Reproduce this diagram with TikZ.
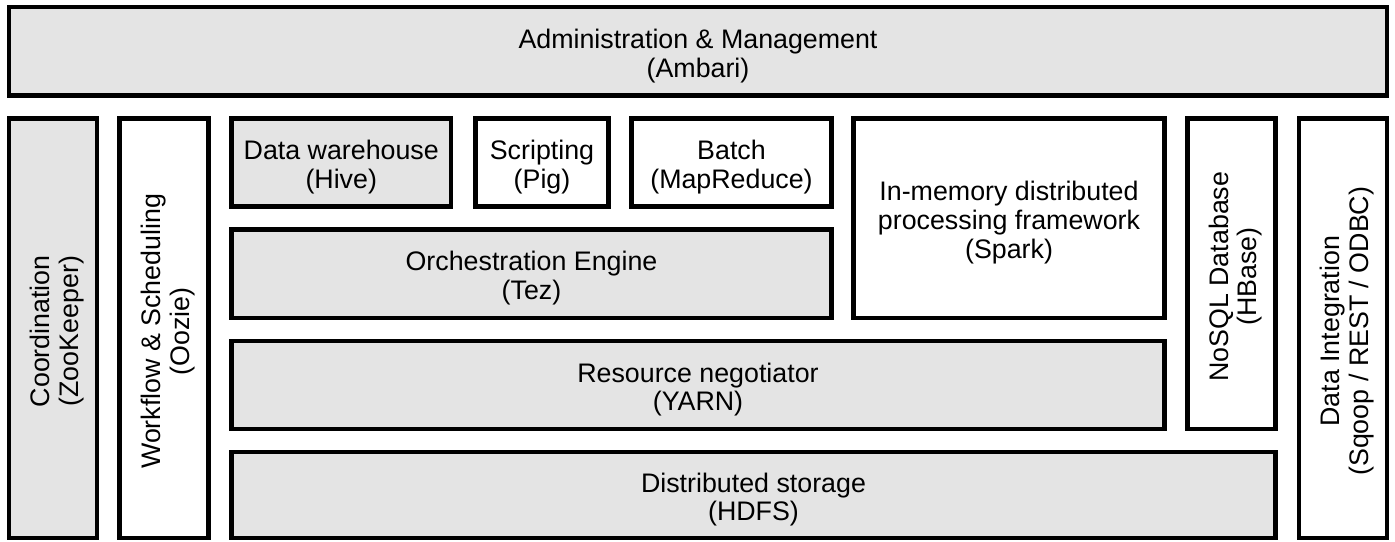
\documentclass[tikz,border=0pt]{standalone}
\usepackage{fontspec}
\setmainfont{Liberation Sans}
\definecolor{boxgray}{HTML}{E4E4E4}
\tikzset{
  layer/.style={draw=black, line width=4.5pt, inner sep=0pt, anchor=center},
  grayb/.style={layer, fill=boxgray},
  whiteb/.style={layer, fill=white},
  lbl/.style={inner sep=0pt, align=center, anchor=center,
    font=\fontsize{26.8}{28.8}\selectfont},
}
\newcommand{\layerbox}[7]{% style, name, x1, y1, x2, y2, text
  \node[#1, minimum width={(#5)-(#3)}, minimum height={(#6)-(#4)}] (#2) at ({((#3)+(#5))/2},{((#4)+(#6))/2}) {};
  \node[lbl] (#2-text) at ([yshift=-4.5pt]#2.center) {#7};}
\newcommand{\vlayerbox}[7]{% rotated text
  \node[#1, minimum width={(#5)-(#3)}, minimum height={(#6)-(#4)}] (#2) at ({((#3)+(#5))/2},{((#4)+(#6))/2}) {};
  \node[lbl, rotate=90] (#2-text) at ([xshift=4pt,yshift=-3pt]#2.center) {#7};}
\begin{document}
\begin{tikzpicture}[x=1pt,y=-1pt]
\useasboundingbox (0,0) rectangle (1395,541);
\layerbox{grayb}{ambari}{9}{7}{1387}{95.5}{Administration \& Management\\(Ambari)}
\vlayerbox{grayb}{zoo}{9}{118.5}{97}{538}{Coordination\\(ZooKeeper)}
\vlayerbox{whiteb}{oozie}{119.5}{118.5}{208.5}{538}{Workflow \& Scheduling\\(Oozie)}
\layerbox{grayb}{hive}{231.5}{118.5}{451}{206.5}{Data warehouse\\(Hive)}
\layerbox{whiteb}{pig}{475.5}{118.5}{608.5}{206.5}{Scripting\\(Pig)}
\layerbox{whiteb}{mr}{631.5}{118.5}{831.5}{206.5}{Batch\\(MapReduce)}
\layerbox{grayb}{tez}{231.5}{229.5}{831.5}{318}{Orchestration Engine\\(Tez)}
\layerbox{whiteb}{spark}{853.5}{118.5}{1164.5}{318}{In-memory distributed\\processing framework\\(Spark)}
\layerbox{grayb}{yarn}{231.5}{341}{1164.5}{429}{Resource negotiator\\(YARN)}
\vlayerbox{whiteb}{hbase}{1187.5}{118.5}{1275.5}{429}{NoSQL Database\\(HBase)}
\layerbox{grayb}{hdfs}{231.5}{452}{1275.5}{538}{Distributed storage\\(HDFS)}
\vlayerbox{whiteb}{sqoop}{1299}{118.5}{1387}{538}{Data Integration\\(Sqoop / REST / ODBC)}
\end{tikzpicture}
\end{document}
